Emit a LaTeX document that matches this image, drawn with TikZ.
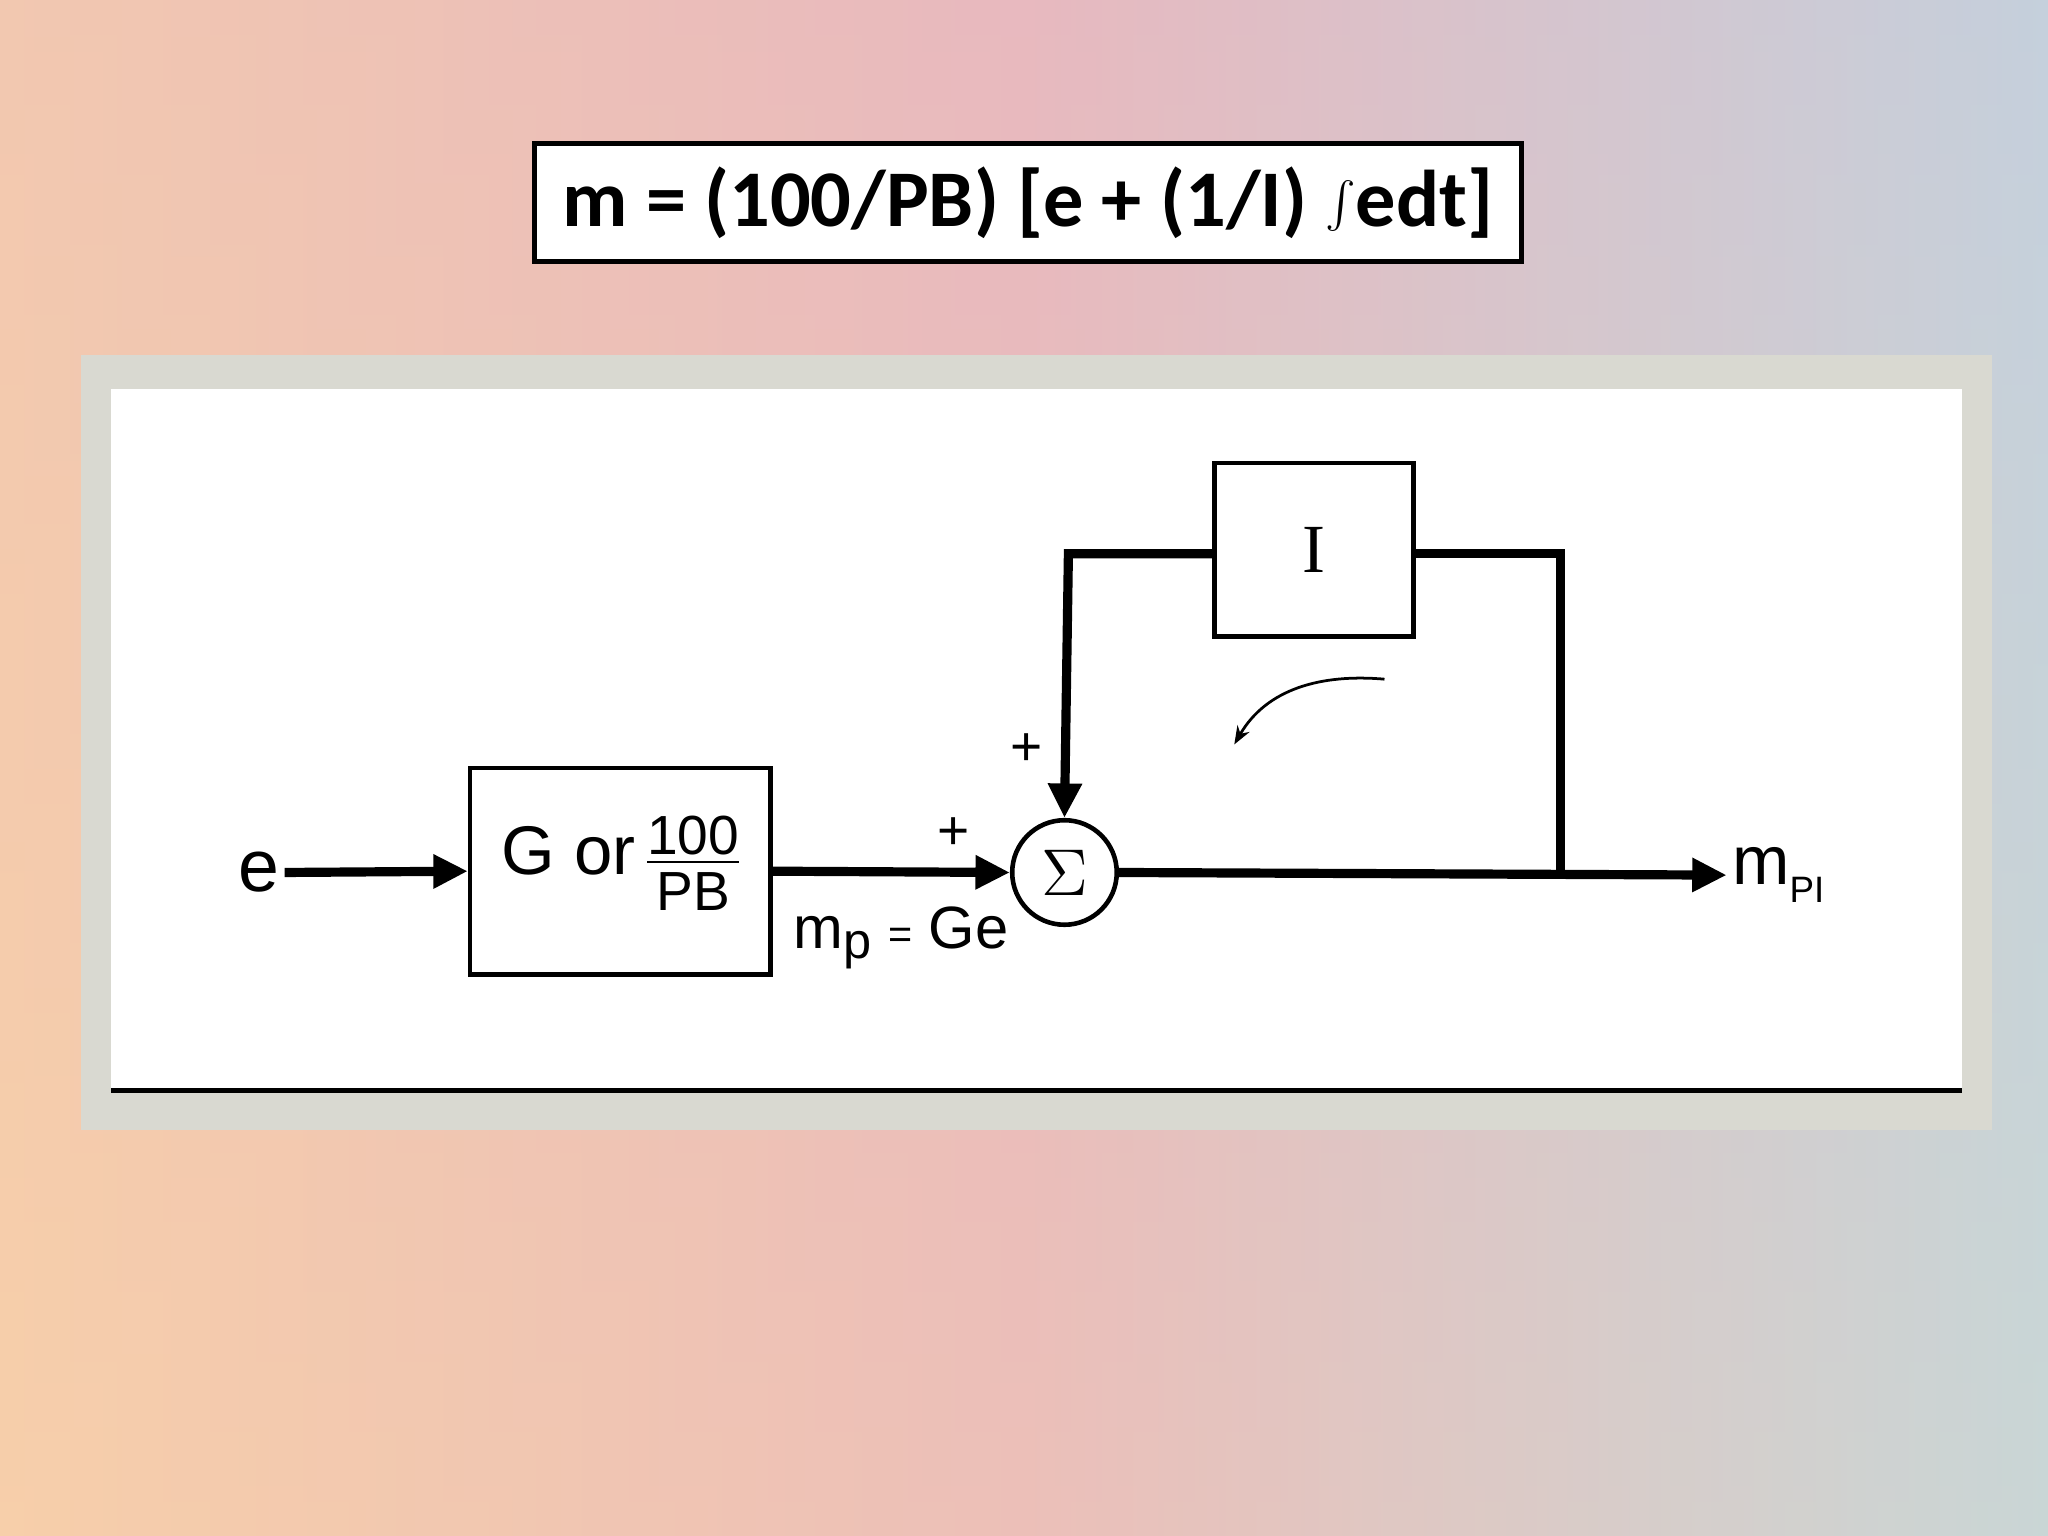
\documentclass[tikz,border=0pt]{standalone}
\usepackage{fontspec}
\setmainfont{Liberation Sans}
\newfontfamily\calib{Carlito}
\newfontfamily\ser{Liberation Serif}
\usetikzlibrary{arrows.meta}
\definecolor{peach}{HTML}{F7CFAA}
\definecolor{pinkm}{HTML}{E8B9BF}
\definecolor{skyb}{HTML}{B6DAE9}
\definecolor{framegray}{HTML}{D9D9D1}
\tikzset{x=0.01cm,y=-0.01cm,
 wire/.style={line width=2pt,-{Triangle[length=7.5pt,width=7pt]}},
 plain/.style={line width=2pt},
 blk/.style={draw,line width=1pt,fill=white,inner sep=0pt},
 lbl/.style={inner sep=1pt,font=\fontsize{14}{16}\selectfont}}
\begin{document}
\begin{tikzpicture}
\useasboundingbox (0,0) rectangle (1568,1176);
\shade[left color=peach,right color=skyb,middle color=pinkm] (0,0) rectangle (1568,1176);
\shade[top color=pinkm,bottom color=peach,opacity=0.3] (0,0) rectangle (1568,1176);
% formula
\node[draw,line width=1pt,fill=white,minimum width=7.55cm,minimum height=0.9cm] (f) at (787,155)
 {\calib\bfseries\fontsize{17.5}{19}\selectfont m = (100/PB) [e + (1/I) $\int$edt]};
% frame
\fill[framegray] (62,272) rectangle (1525,865);
\fill[white] (85,298) rectangle (1502,835);
\draw[line width=1pt] (85,835) -- (1502,835);
% blocks
\node[blk,minimum width=2.3cm,minimum height=1.58cm] (g) at (475,667)
 {\fontsize{15}{17}\selectfont G or\,\raisebox{-0.3ex}{\fontsize{12}{13}\selectfont\setlength{\tabcolsep}{0pt}\renewcommand{\arraystretch}{0.9}\begin{tabular}{c}100\\[-2pt]\hline\noalign{\vskip2pt}PB\end{tabular}}};
\node[blk,circle,minimum size=0.8cm,font=\ser\fontsize{14}{16}\selectfont] (s) at (815,668) {$\Sigma$};
\node[blk,minimum width=1.52cm,minimum height=1.33cm,font=\ser\fontsize{15}{17}\selectfont] (i) at (1006,421) {I};
\node[lbl,font=\fontsize{16}{18}\selectfont] (e) at (198,668) {e};
\node[lbl,font=\fontsize{15}{17}\selectfont,anchor=west] (m) at (1322,670) {m\raisebox{-0.5ex}{\fontsize{8}{9}\selectfont PI}};
\coordinate (j) at (1195,668);
\draw[wire] (e.east) -- (g.west);
\draw[wire] (g.east) -- (s.west);
\draw[wire] (s.east) -- (m.west);
\draw[plain] (j) -- (1195,424) -- (i.east |- 0,424);
\draw[wire] (i.west |- 0,424) -- (818,424) -- (s.north);
\node[lbl,font=\fontsize{12}{13}\selectfont] (p1) at (730,638) {+};
\node[lbl,font=\fontsize{12}{13}\selectfont] (p2) at (786,574) {+};
\node[lbl,font=\fontsize{13}{15}\selectfont] (mp) at (690,718) {m\raisebox{-0.3ex}{\fontsize{11}{12}\selectfont p} {\fontsize{9}{11}\selectfont =} Ge};
\draw[line width=0.6pt,-{Stealth[length=4pt]}] (1060,520) to[out=175,in=60] (945,570);
\end{tikzpicture}
\end{document}
